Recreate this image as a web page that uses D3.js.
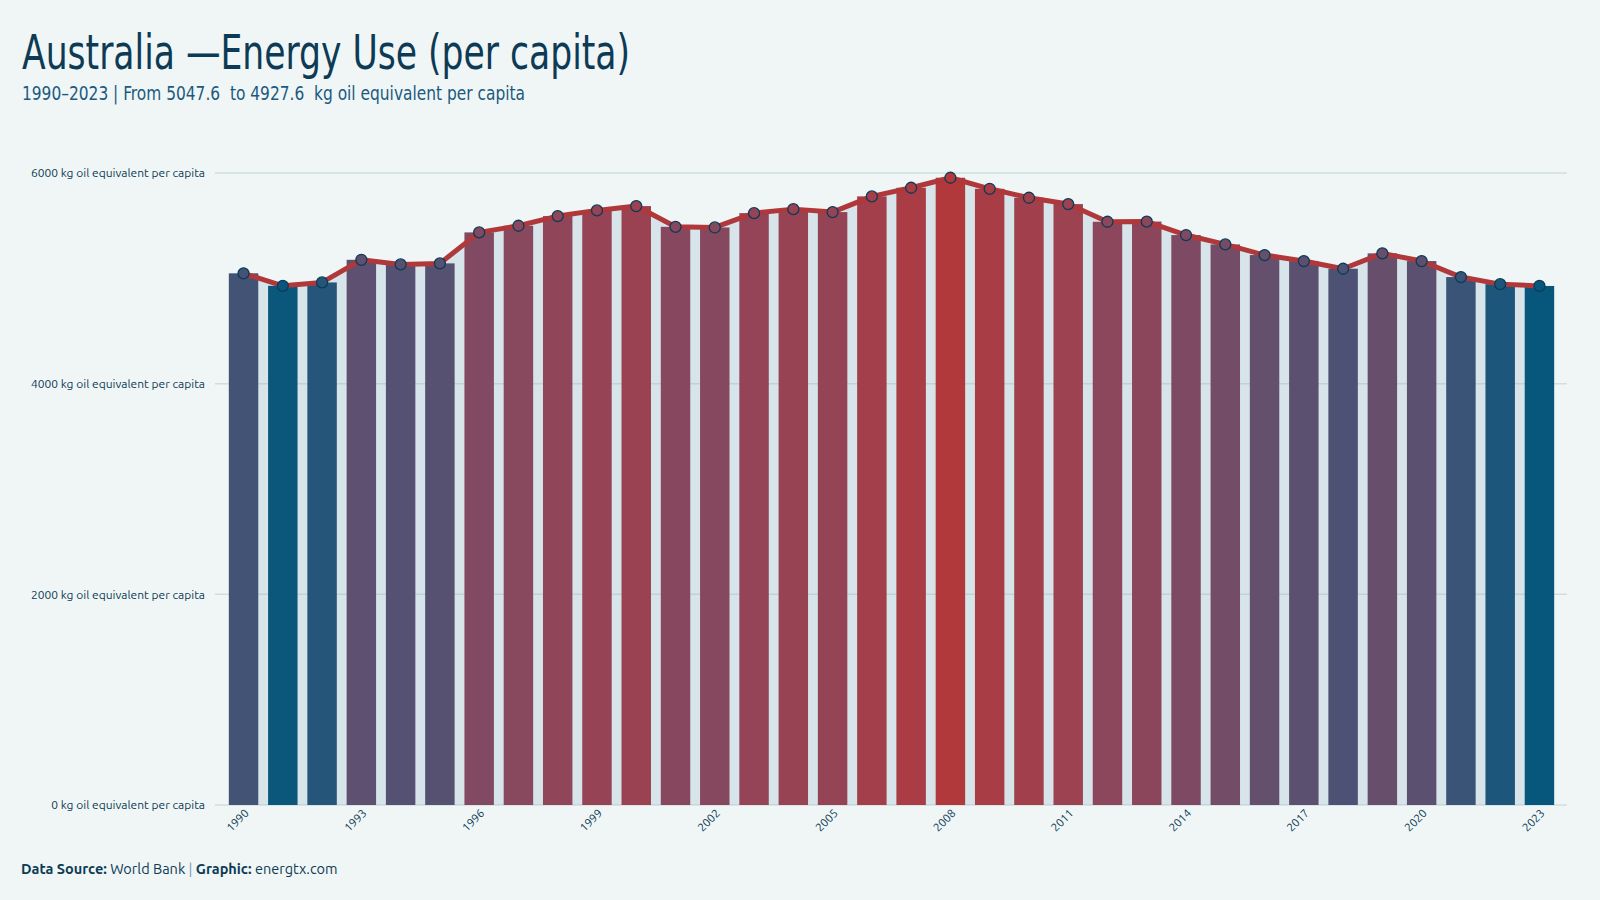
<!DOCTYPE html>
<html>
<head>
<meta charset="utf-8">
<script src="https://cdn.jsdelivr.net/npm/d3@7"></script>
<style>
  body { margin: 0; background: #f0f6f6; }
  svg { display: block; }
  .cond { font-family: "Ubuntu Condensed", "Liberation Sans Narrow", "DejaVu Sans Condensed", "Roboto Condensed", sans-serif; font-stretch: condensed; }
  .lbl { font-family: "Ubuntu", "Noto Sans", "Open Sans", sans-serif; }
</style>
</head>
<body>
<svg id="svg"></svg>
<script>
// data
let years = [1990, 1991, 1992, 1993, 1994, 1995, 1996, 1997, 1998, 1999,
  2000, 2001, 2002, 2003, 2004, 2005, 2006, 2007, 2008, 2009,
  2010, 2011, 2012, 2013, 2014, 2015, 2016, 2017, 2018, 2019,
  2020, 2021, 2022, 2023];
let values = [5047.6, 4929, 4961, 5176, 5132, 5142, 5436, 5499, 5591, 5645,
  5686, 5489, 5483, 5619, 5657, 5629, 5778, 5860, 5955, 5850,
  5765, 5705, 5537, 5539, 5411, 5322, 5221, 5164, 5091, 5237,
  5164, 5012, 4945, 4927.6];
let yTicks = [0, 2000, 4000, 6000];
let xTickYears = [1990, 1993, 1996, 1999, 2002, 2005, 2008, 2011, 2014, 2017, 2020, 2023];

let width = 1600;
let height = 900;

let svg = d3.select("#svg")
  .attr("width", width)
  .attr("height", height);

svg.append("rect").attr("width", width).attr("height", height).attr("fill", "#f0f6f6");

let data = years.map((y, i) => ({ year: y, value: values[i] }));

let x = d3.scaleBand()
  .domain(years)
  .range([219, 1564])
  .padding(0.25);

let y = d3.scaleLinear()
  .domain([0, 6000])
  .range([805, 173]);

// bar colour runs from blue (lowest) to red (highest)
let color = d3.scaleLinear()
  .domain([d3.min(values), d3.max(values)])
  .range(["#07567b", "#b1393b"])
  .interpolate(d3.interpolateRgb.gamma(2.2));

let cx = d => x(d.year) + x.bandwidth() / 2;

// light area under the line
svg.append("path")
  .datum(data)
  .attr("fill", "#d7e4e9")
  .attr("d", d3.area().x(cx).y0(y(0)).y1(d => y(d.value)));

// gridlines
svg.append("g")
  .selectAll("line")
  .data(yTicks)
  .enter()
  .append("line")
  .attr("x1", 215)
  .attr("x2", 1567)
  .attr("y1", d => y(d))
  .attr("y2", d => y(d))
  .attr("stroke", "rgba(140,165,175,0.3)")
  .attr("stroke-width", 1.5);

svg.append("g")
  .selectAll("text")
  .data(yTicks)
  .enter()
  .append("text")
  .attr("class", "lbl")
  .attr("x", 205)
  .attr("y", d => y(d))
  .attr("dy", "0.35em")
  .attr("text-anchor", "end")
  .attr("font-size", 12)
  .attr("fill", "#0d3b55")
  .text(d => d + " kg oil equivalent per capita");

// bars
svg.append("g")
  .selectAll("rect")
  .data(data)
  .enter()
  .append("rect")
  .attr("x", d => x(d.year))
  .attr("width", x.bandwidth())
  .attr("y", d => y(d.value))
  .attr("height", d => y(0) - y(d.value))
  .attr("fill", d => color(d.value));

// line + points
svg.append("path")
  .datum(data)
  .attr("fill", "none")
  .attr("stroke", "#b0383a")
  .attr("stroke-width", 5)
  .attr("stroke-linejoin", "round")
  .attr("d", d3.line().x(cx).y(d => y(d.value)));

svg.append("g")
  .selectAll("circle")
  .data(data)
  .enter()
  .append("circle")
  .attr("cx", cx)
  .attr("cy", d => y(d.value))
  .attr("r", 5.5)
  .attr("fill", d => color(d.value))
  .attr("stroke", "#0d3b55")
  .attr("stroke-width", 1.3);

// x tick labels
svg.append("g")
  .selectAll("text")
  .data(xTickYears)
  .enter()
  .append("text")
  .attr("class", "lbl")
  .attr("text-anchor", "end")
  .attr("font-size", 11.5)
  .attr("fill", "#0d3b55")
  .attr("transform", d => "translate(" + (x(d) + x.bandwidth() / 2 + 6) + ",814) rotate(-45)")
  .text(d => d);

// titles (squeezed to mimic the condensed face)
svg.append("text")
  .attr("class", "cond")
  .attr("x", 22)
  .attr("y", 69)
  .attr("font-size", 48)
  .attr("font-weight", 300)
  .attr("fill", "#0d3b55")
  .attr("textLength", 608)
  .attr("lengthAdjust", "spacingAndGlyphs")
  .text("Australia \u2014Energy Use (per capita)");

svg.append("text")
  .attr("class", "cond")
  .attr("x", 22)
  .attr("y", 100)
  .attr("font-size", 20)
  .attr("fill", "#1b5a80")
  .attr("xml:space", "preserve")
  .attr("textLength", 503)
  .attr("lengthAdjust", "spacingAndGlyphs")
  .text("1990\u20132023 | From 5047.6  to 4927.6  kg oil equivalent per capita");

let foot = svg.append("text")
  .attr("class", "lbl")
  .attr("x", 21)
  .attr("y", 874)
  .attr("font-size", 14.5)
  .attr("fill", "#0d3b55");
foot.append("tspan").attr("font-weight", "bold").text("Data Source:");
foot.append("tspan").text(" World Bank ");
foot.append("tspan").attr("fill", "#7a9aae").text("|");
foot.append("tspan").attr("font-weight", "bold").text(" Graphic:");
foot.append("tspan").text(" energtx.com");
</script>
</body>
</html>
